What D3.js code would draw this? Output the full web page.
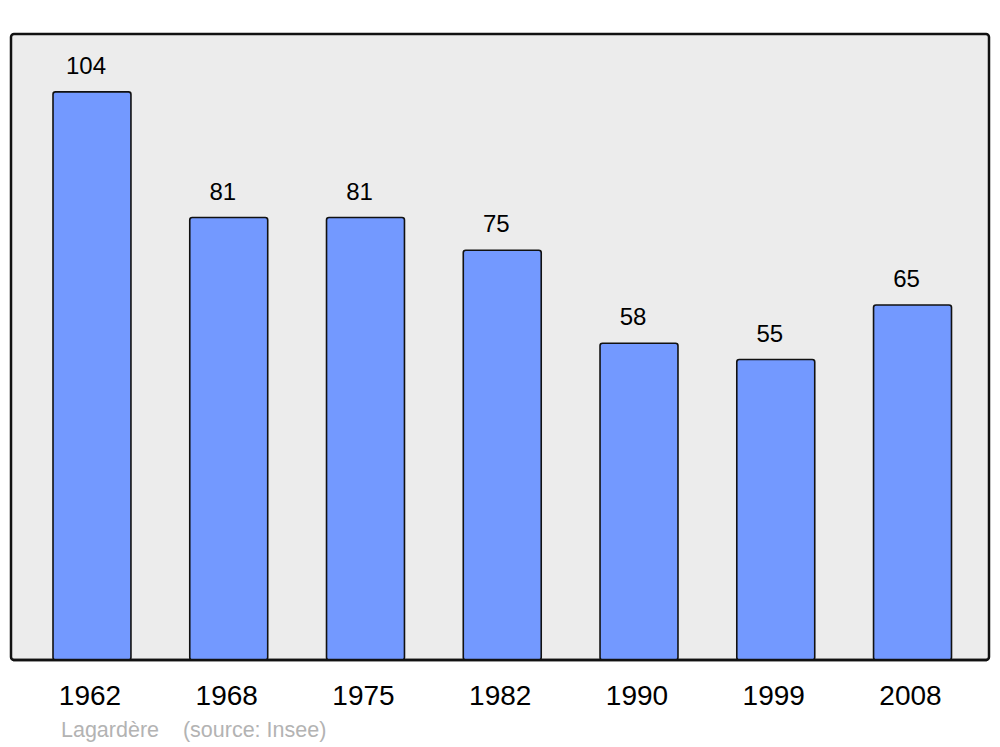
<!DOCTYPE html>
<html>
<head>
<meta charset="utf-8">
<script src="https://cdn.jsdelivr.net/npm/d3@7"></script>
<style>
  body { margin: 0; background: #fff; }
  svg text { font-family: "Liberation Sans", Arial, sans-serif; }
</style>
</head>
<body>
<div id="chart"></div>
<script>
// population by census year
var years = ["1962", "1968", "1975", "1982", "1990", "1999", "2008"];
var population = [104, 81, 81, 75, 58, 55, 65];
var footer = "Lagardère    (source: Insee)";

var width = 1000, height = 747;
var panel = {left: 11, top: 34, right: 989, bottom: 660};

var svg = d3.select("#chart").append("svg")
  .attr("width", width)
  .attr("height", height);

svg.append("rect")
  .attr("x", panel.left)
  .attr("y", panel.top)
  .attr("width", panel.right - panel.left)
  .attr("height", panel.bottom - panel.top)
  .attr("rx", 3)
  .attr("fill", "#ececec")
  .attr("stroke", "#111")
  .attr("stroke-width", 2.5);

var x = d3.scaleBand()
  .domain(years)
  .range([23.6, 980.9])
  .paddingInner(0.43)
  .paddingOuter(0.215);

var y = d3.scaleLinear()
  .domain([0, 114.6])
  .range([panel.bottom, panel.top]);

var bars = svg.selectAll("g.bar")
  .data(years.map(function (d, i) { return {year: d, value: population[i]}; }))
  .enter().append("g")
  .attr("class", "bar");

bars.append("rect")
  .attr("x", function (d) { return x(d.year); })
  .attr("y", function (d) { return y(d.value); })
  .attr("width", x.bandwidth())
  .attr("height", function (d) { return panel.bottom - y(d.value); })
  .attr("rx", 2.5)
  .attr("fill", "#7399ff")
  .attr("stroke", "#111")
  .attr("stroke-width", 1.6);

bars.append("text")
  .attr("x", function (d) { return x(d.year) + x.bandwidth() / 2 - 6; })
  .attr("y", function (d) { return y(d.value) - 18; })
  .attr("text-anchor", "middle")
  .style("font-size", "24px")
  .attr("fill", "#000")
  .text(function (d) { return d.value; });

// redraw the bottom edge over the bars
svg.append("line")
  .attr("x1", panel.left + 2)
  .attr("x2", panel.right - 2)
  .attr("y1", panel.bottom)
  .attr("y2", panel.bottom)
  .attr("stroke", "#111")
  .attr("stroke-width", 2.5);

svg.selectAll("text.year")
  .data(years)
  .enter().append("text")
  .attr("class", "year")
  .attr("x", function (d) { return x(d) + x.bandwidth() / 2 - 2; })
  .attr("y", 705)
  .attr("text-anchor", "middle")
  .style("font-size", "28px")
  .attr("fill", "#000")
  .text(function (d) { return d; });

svg.append("text")
  .attr("x", 61)
  .attr("y", 737)
  .style("font-size", "21.5px")
  .style("white-space", "pre")
  .attr("xml:space", "preserve")
  .attr("fill", "#b3b3b3")
  .text(footer);
</script>
</body>
</html>
